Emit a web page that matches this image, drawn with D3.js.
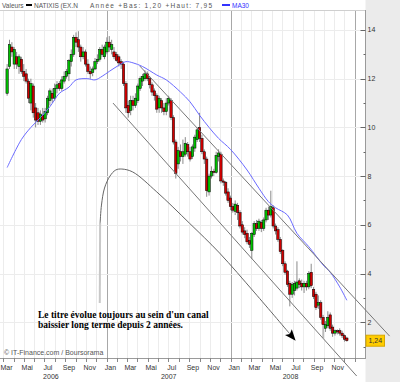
<!DOCTYPE html>
<html>
<head>
<meta charset="utf-8">
<script src="https://cdn.jsdelivr.net/npm/d3@7"></script>
<style>
  body { margin: 0; background: #fff; }
  svg { display: block; font-family: "Liberation Sans", Arial, sans-serif; }
</style>
</head>
<body>
<script>
const WIDTH = 400,
      HEIGHT = 382,
      PLOT_RIGHT = 365.5,
      PLOT_TOP = 10,
      PLOT_BOTTOM = 358;

// weekly candles, first week starting Monday 13 March 2006
const firstWeek = new Date(2006, 2, 13);
const open  = [11.4,12.5,13.3,12.6,12.9,12.5,12.8,12.3,12.2,11.9,11.0,11.7,10.8,10.6,10.25,10.5,10.35,10.6,11.1,11.4,11.2,11.6,11.8,11.6,11.9,12.1,12.2,12.7,13.0,13.7,13.6,13.3,12.9,13.1,12.6,12.3,12.25,12.4,12.7,12.8,13.2,12.9,
               13.1,13.5,13.2,13.1,13.0,12.9,12.7,12.6,11.8,10.9,10.7,11.1,10.9,11.1,11.6,11.9,12.0,12.2,12.0,11.75,11.5,11.3,10.8,11.1,10.8,10.65,11.0,11.1,10.4,9.4,8.5,9.0,8.8,8.9,9.3,9.0,8.8,9.15,9.5,10.0,9.55,9.0,8.7,7.35,8.0,8.2,8.15,8.8,8.9,7.8,7.75,7.35,
               7.1,6.75,6.55,6.8,6.5,6.0,5.75,5.65,5.35,4.95,5.6,6.05,5.85,6.1,5.85,6.2,6.6,6.4,6.7,5.95,5.8,5.4,4.95,4.4,4.1,3.6,3.15,3.3,3.4,3.7,3.6,3.45,3.6,3.45,4.05,3.35,3.15,2.7,2.8,2.2,1.75,1.85,2.3,1.8,1.55,1.65,1.65,1.55,1.45,1.35];
const high  = [12.6,13.6,13.5,13.3,13.1,13.0,12.9,12.6,12.4,12.0,12.0,11.8,11.0,10.8,10.7,10.8,10.8,11.3,11.6,11.6,11.8,11.9,11.9,12.1,12.3,12.4,12.8,13.2,13.8,13.9,13.95,13.4,13.3,13.2,12.8,12.5,12.5,12.85,13.0,13.3,13.4,13.4,
               13.7,13.75,13.6,13.3,13.1,13.0,12.8,12.7,11.9,11.1,11.3,11.3,11.4,11.8,12.1,12.2,12.35,12.3,12.1,11.85,11.6,11.4,11.3,11.2,11.0,11.2,11.3,11.2,10.5,9.5,9.2,9.3,9.5,9.6,9.4,9.2,9.3,9.7,10.0,10.6,9.7,9.1,8.8,8.1,8.4,8.3,9.0,9.1,9.0,7.9,7.8,7.5,
               7.2,6.9,7.0,6.9,6.6,6.15,5.9,5.8,5.5,5.7,6.15,6.2,6.25,6.2,6.3,6.7,6.75,7.4,6.8,6.05,5.9,5.5,5.0,4.5,4.15,3.7,3.65,3.7,4.5,3.8,3.75,3.7,3.7,4.1,4.4,3.45,3.25,3.1,2.9,2.3,2.05,2.45,2.4,1.9,1.7,1.7,1.75,1.65,1.5,1.4];
const low   = [11.3,12.4,12.9,12.4,12.4,12.2,12.2,11.9,11.8,11.0,10.7,10.4,10.0,10.1,10.1,10.2,10.2,10.5,10.9,11.0,11.1,11.4,11.5,11.5,11.8,12.0,11.9,12.5,12.9,13.3,13.1,12.7,12.8,12.5,12.2,12.0,12.1,12.35,12.6,12.7,12.9,12.8,
               13.0,13.1,13.0,12.8,12.7,12.5,12.4,11.7,10.6,10.4,10.5,10.7,10.8,11.0,11.5,11.7,11.9,11.9,11.6,11.3,11.1,10.6,10.6,10.6,10.5,10.5,10.9,10.3,9.3,7.9,8.3,8.6,8.5,8.8,8.8,8.6,8.7,9.0,9.4,9.4,8.9,8.5,7.15,7.2,7.9,8.0,8.1,8.6,7.7,7.6,7.2,6.9,
               6.6,6.5,6.4,6.2,5.85,5.6,5.45,5.2,5.05,4.6,5.5,5.75,5.75,5.7,5.75,6.1,6.2,6.3,5.85,5.6,5.3,4.8,4.3,3.95,3.45,2.65,3.0,3.1,3.3,3.4,3.3,3.2,3.3,3.35,3.4,2.95,2.5,2.55,2.1,1.35,1.6,1.75,1.65,1.4,1.45,1.5,1.45,1.35,1.2,1.2];
const close = [12.4,13.4,13.1,13.2,12.6,12.9,12.3,12.1,11.9,11.2,11.8,10.6,10.3,10.25,10.55,10.3,10.65,11.2,11.5,11.2,11.6,11.75,11.6,11.95,12.1,12.3,12.75,13.0,13.7,13.5,13.3,12.9,13.1,12.6,12.3,12.2,12.4,12.7,12.8,13.2,13.0,13.3,
               13.5,13.3,13.4,12.9,12.75,12.65,12.6,11.8,10.8,10.6,11.1,10.9,11.2,11.7,12.0,12.1,12.2,12.0,11.75,11.45,11.3,10.75,11.2,10.8,10.65,11.0,11.2,10.4,9.4,8.1,9.05,8.8,9.0,9.35,9.0,8.7,9.2,9.6,9.9,9.55,9.0,8.7,7.4,8.0,8.2,8.15,8.85,8.95,7.8,7.75,7.3,7.0,
               6.75,6.6,6.85,6.5,5.95,5.7,5.6,5.3,5.2,5.65,6.05,5.85,6.15,5.85,6.2,6.6,6.4,6.75,5.95,5.75,5.4,4.9,4.4,4.05,3.55,3.15,3.55,3.6,3.65,3.55,3.45,3.6,3.45,4.0,3.5,3.05,2.6,2.8,2.2,1.9,1.9,2.2,1.75,1.55,1.65,1.6,1.55,1.45,1.3,1.24];

// 30-week moving average (week index, value)
const maWeek  = [0, 6, 10, 14, 18, 22, 26, 29, 34, 37, 40, 43, 47, 50, 53, 57, 63, 67, 73, 77, 81, 85, 89, 94, 101, 106, 110, 113, 118, 122, 127, 133, 136, 140, 143];
const maValue = [8.35, 9.5, 10.0, 10.4, 10.85, 11.4, 11.65, 11.95, 12.0, 11.95, 12.1, 12.3, 12.55, 12.7, 12.65, 12.5, 12.15, 11.95, 11.45, 11.05, 10.5, 10.0, 9.55, 9.1, 8.25, 7.5, 6.95, 6.7, 6.4, 5.65, 5.1, 4.35, 4.05, 3.45, 2.9];

const priceTicks = [2, 4, 6, 8, 10, 12, 14];
const minorTicks = [1, 3, 5, 7, 9, 11, 13];
const monthNames = ['Jan', 'Fév', 'Mar', 'Avr', 'Mai', 'Jun', 'Jul', 'Aoû', 'Sep', 'Oct', 'Nov', 'Déc'];
const yearLabels = [['2006', new Date(2006, 6, 20)], ['2007', new Date(2007, 6, 2)], ['2008', new Date(2008, 5, 25)]];
const lastValue = '1,24';

// hand drawn annotation (date, price)
const upperChannel = [[new Date(2007, 3, 8), 12.52], [new Date(2009, 3, 13), 1.43]];
const lowerChannel = [[new Date(2007, 0, 19), 11.0], [new Date(2009, 0, 6), -0.21]];
const arrowTail = [[new Date(2006, 11, 11), 2.79], [new Date(2006, 11, 12), 6.07]];
const arrowBody = [[new Date(2006, 11, 12), 6.07], [new Date(2006, 11, 16), 6.81], [new Date(2006, 11, 25), 7.51],
                   [new Date(2007, 0, 10), 8.0], [new Date(2007, 0, 27), 8.25], [new Date(2007, 1, 14), 8.29],
                   [new Date(2007, 2, 18), 8.17], [new Date(2007, 4, 28), 7.35], [new Date(2007, 8, 1), 6.07],
                   [new Date(2007, 10, 29), 4.84], [new Date(2008, 2, 12), 3.2], [new Date(2008, 5, 23), 1.52]];
const noteLines = ["Le titre évolue toujours au sein d'un canal", 'baissier long terme depuis 2 années.'];

const weeks = close.map((c, i) => d3.timeDay.offset(firstWeek, 7 * i));

const x = d3.scaleTime().domain([new Date(2006, 1, 20), new Date(2009, 1, 1)]).range([0, PLOT_RIGHT]);
const y = d3.scaleLinear().domain([0, 14]).range([30 + 14 * 24.35, 30]);

const svg = d3.select('body').append('svg').attr('width', WIDTH).attr('height', HEIGHT);

// backgrounds
svg.append('rect').attr('width', WIDTH).attr('height', HEIGHT).attr('fill', '#fff');
svg.append('rect').attr('x', PLOT_RIGHT).attr('y', 0).attr('width', WIDTH - PLOT_RIGHT).attr('height', HEIGHT).attr('fill', '#ebebeb');

// grid
var months = d3.timeMonth.range(x.domain()[0], x.domain()[1]);
svg.append('g').selectAll('line').data(months).join('line')
  .attr('x1', d => Math.round(x(d)) + .5).attr('x2', d => Math.round(x(d)) + .5)
  .attr('y1', PLOT_TOP).attr('y2', PLOT_BOTTOM)
  .attr('stroke', d => d.getMonth() === 0 ? '#a8a8a8' : '#ececec');
svg.append('g').selectAll('line').data(priceTicks).join('line')
  .attr('x1', 0).attr('x2', PLOT_RIGHT)
  .attr('y1', d => Math.round(y(d)) + .5).attr('y2', d => Math.round(y(d)) + .5)
  .attr('stroke', '#ececec');

// frame
svg.append('line').attr('x1', 0).attr('x2', PLOT_RIGHT).attr('y1', PLOT_TOP + .5).attr('y2', PLOT_TOP + .5).attr('stroke', '#cfcfcf');
svg.append('line').attr('x1', 0).attr('x2', PLOT_RIGHT).attr('y1', PLOT_BOTTOM + .5).attr('y2', PLOT_BOTTOM + .5).attr('stroke', '#9a9a9a');
svg.append('line').attr('x1', PLOT_RIGHT).attr('x2', PLOT_RIGHT).attr('y1', PLOT_TOP).attr('y2', PLOT_BOTTOM + 1).attr('stroke', '#9a9a9a');

// right axis
var yAxis = svg.append('g').attr('font-size', 7).attr('fill', '#333');
yAxis.selectAll('line.major').data(priceTicks).join('line').attr('class', 'major')
  .attr('x1', PLOT_RIGHT - 5).attr('x2', PLOT_RIGHT)
  .attr('y1', d => Math.round(y(d)) + .5).attr('y2', d => Math.round(y(d)) + .5).attr('stroke', '#666');
yAxis.selectAll('line.minor').data(minorTicks).join('line').attr('class', 'minor')
  .attr('x1', PLOT_RIGHT - 2).attr('x2', PLOT_RIGHT)
  .attr('y1', d => Math.round(y(d)) + .5).attr('y2', d => Math.round(y(d)) + .5).attr('stroke', '#666');
yAxis.selectAll('text').data(priceTicks).join('text')
  .attr('x', PLOT_RIGHT + 2).attr('y', d => y(d)).attr('dy', '0.35em').text(d => d);

// bottom axis
var xAxis = svg.append('g').attr('font-size', 7).attr('fill', '#333');
xAxis.selectAll('line').data(months).join('line')
  .attr('x1', d => Math.round(x(d)) + .5).attr('x2', d => Math.round(x(d)) + .5)
  .attr('y1', PLOT_BOTTOM).attr('y2', PLOT_BOTTOM + 4).attr('stroke', '#888');
xAxis.selectAll('text.month').data(months.filter(d => d.getMonth() % 2 === 0 && d < new Date(2008, 11, 1))).join('text')
  .attr('class', 'month').attr('x', d => x(d) + 3.5).attr('y', PLOT_BOTTOM + 11.5)
  .attr('text-anchor', 'middle').text(d => monthNames[d.getMonth()]);
xAxis.selectAll('text.year').data(yearLabels).join('text')
  .attr('class', 'year').attr('x', d => x(d[1])).attr('y', PLOT_BOTTOM + 20.5)
  .attr('text-anchor', 'middle').text(d => d[0]);

// candles
var candles = svg.append('g');
candles.selectAll('line').data(weeks).join('line')
  .attr('x1', d => x(d)).attr('x2', d => x(d))
  .attr('y1', (d, i) => y(high[i])).attr('y2', (d, i) => y(low[i]))
  .attr('stroke', '#8a8a8a').attr('stroke-width', 1);
candles.selectAll('rect').data(weeks).join('rect')
  .attr('x', d => x(d) - 1.2).attr('width', 2.4)
  .attr('y', (d, i) => y(Math.max(open[i], close[i])))
  .attr('height', (d, i) => Math.max(.8, Math.abs(y(open[i]) - y(close[i]))))
  .attr('fill', (d, i) => close[i] >= open[i] ? '#00c000' : '#d00000')
  .attr('stroke', '#000').attr('stroke-width', .5);

// moving average
var maLine = d3.line().x(d => x(weeks[d[0]])).y(d => y(d[1])).curve(d3.curveCatmullRom);
svg.append('path').datum(maWeek.map((w, i) => [w, maValue[i]]))
  .attr('d', maLine).attr('fill', 'none').attr('stroke', '#6a6aff').attr('stroke-width', 1);

// annotation
var lineXY = d3.line().x(d => x(d[0])).y(d => y(d[1]));
[upperChannel, lowerChannel].forEach(function(pts) {
  svg.append('path').datum(pts).attr('d', lineXY).attr('fill', 'none').attr('stroke', '#777').attr('stroke-width', 1);
});
svg.append('path').datum(arrowTail).attr('d', lineXY).attr('fill', 'none').attr('stroke', '#c8c8c8').attr('stroke-width', 2);
var defs = svg.append('defs');
defs.append('marker').attr('id', 'head').attr('viewBox', '0 0 10 8').attr('refX', 2).attr('refY', 4)
  .attr('markerWidth', 12).attr('markerHeight', 9).attr('markerUnits', 'userSpaceOnUse').attr('orient', 'auto')
  .append('path').attr('d', 'M0,0 L10,4 L0,8 L2,4 Z').attr('fill', '#000');
svg.append('path').datum(arrowBody).attr('d', lineXY.curve(d3.curveCatmullRom)).attr('fill', 'none')
  .attr('stroke', '#666').attr('stroke-width', 1).attr('marker-end', 'url(#head)');

svg.append('g').attr('font-family', '"Liberation Serif", "Times New Roman", serif').attr('font-weight', 'bold').attr('font-size', 9.5)
  .selectAll('text').data(noteLines).join('text')
  .attr('x', 38).attr('y', (d, i) => 318 + i * 10).text(d => d);

svg.append('text').attr('x', 4).attr('y', 355).attr('font-size', 7).attr('fill', '#555').text('© IT-Finance.com / Boursorama');

// last value tag
var tag = svg.append('g');
tag.append('rect').attr('x', PLOT_RIGHT + .5).attr('y', y(close[close.length - 1]) - 5.5).attr('width', 18.5).attr('height', 11)
  .attr('fill', '#ffcc00').attr('stroke', '#d8a800');
tag.append('text').attr('x', PLOT_RIGHT + 9.75).attr('y', y(close[close.length - 1])).attr('dy', '0.35em')
  .attr('text-anchor', 'middle').attr('font-size', 7).attr('fill', '#333').text(lastValue);

// header legend
var head = svg.append('g').attr('font-size', 6.5).attr('fill', '#555');
head.append('text').attr('x', 2).attr('y', 7.5).text('Valeurs');
head.append('rect').attr('x', 26).attr('y', 4).attr('width', 6).attr('height', 2).attr('fill', '#000');
head.append('text').attr('x', 34).attr('y', 7.5).text('NATIXIS (EX.N');
head.append('text').attr('x', 90).attr('y', 7.5).attr('textLength', 122).text('Année +Bas: 1,20 +Haut: 7,95');
head.append('rect').attr('x', 222).attr('y', 4).attr('width', 8).attr('height', 2).attr('fill', '#3333ff');
head.append('text').attr('x', 232).attr('y', 7.5).attr('fill', '#3333ff').text('MA30');
</script>
</body>
</html>
